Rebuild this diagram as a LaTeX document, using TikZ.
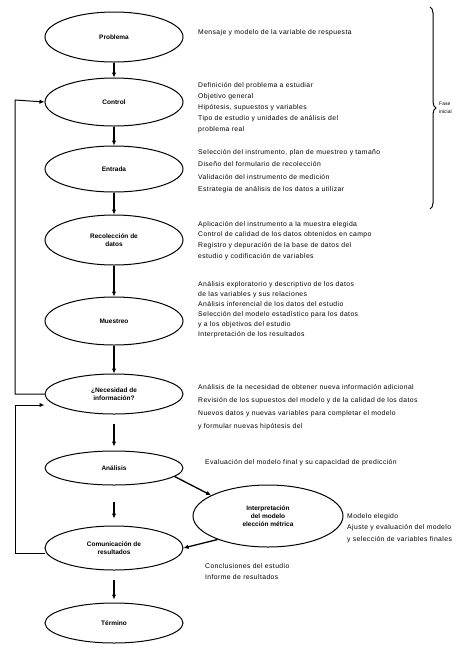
\documentclass[tikz,border=0pt]{standalone}
\usepackage{fontspec}
\setmainfont{Liberation Sans}
\newfontfamily\notefont[LetterSpace=6]{Liberation Sans}
\usetikzlibrary{shapes.geometric,arrows.meta,decorations.pathreplacing}
\begin{document}
\begin{tikzpicture}[x=1pt,y=-1pt,
  proc/.style={ellipse, draw, line width=1pt, minimum width=138pt, inner sep=0pt, align=center,
    font=\bfseries\fontsize{6.5}{8}\selectfont},
  arr/.style={line width=1.3pt, -{Latex[length=5pt,width=4.5pt]}},
  back/.style={line width=1pt},
  note/.style={anchor=north west, align=left, inner sep=0pt,
    font=\notefont\fontsize{6.8}{10}\selectfont}
]
\useasboundingbox[fill=white] (0,0) rectangle (459,649);

% process ellipses
\node[proc, minimum height=50pt] (e1) at (114,37) {Problema};
\node[proc, minimum height=48pt] (e2) at (114,102) {Control};
\node[proc, minimum height=46pt] (e3) at (114,169) {Entrada};
\node[proc, minimum height=50pt] (e4) at (114,240) {Recolección de\\datos};
\node[proc, minimum height=48pt] (e5) at (114,321) {Muestreo};
\node[proc, minimum height=40pt] (e6) at (114,394) {¿Necesidad de\\información?};
\node[proc, minimum height=34pt] (e7) at (114,468) {Análisis};
\node[proc, minimum width=150pt, minimum height=62pt] (e8) at (268,516) {Interpretación\\del modelo\\elección métrica};
\node[proc, minimum height=44pt] (e9) at (114,548) {Comunicación de\\resultados};
\node[proc, minimum height=40pt] (e10) at (114,623) {Término};

% vertical connectors
\draw[arr] (e1) -- (e2);
\draw[arr] (e2) -- (e3);
\draw[arr] (e3) -- (e4);
\draw[arr] (e4) -- (e5);
\draw[arr] (e5) -- (e6);
\draw[arr, shorten <=9pt, shorten >=4pt] (e6) -- (e7);
\draw[arr, shorten <=16pt, shorten >=7pt] (e7) -- (e9);
\draw[arr, shorten <=9pt, shorten >=3pt] (e9) -- (e10);
\draw[arr] (e7.-8) -- (e8.160);
\draw[arr] (e8.205) -- (e9.east);

% feedback loops
\coordinate (l1a) at (15,394);
\coordinate (l1b) at (15,100);
\draw[back, -{Latex[length=5pt,width=4.5pt]}] (e6.west) -- (l1a) -- (l1b) -- (e2.west);
\coordinate (l2a) at (15,553);
\coordinate (l2b) at (15,405);
\draw[back, -{Latex[length=5pt,width=4.5pt]}] (e9.west |- l2a) -- (l2a) -- (l2b) -- (e6.west |- l2b);

% brace
\coordinate (b1) at (430,7);
\coordinate (b2) at (430,209);
\draw[line width=1pt, decorate, decoration={brace, amplitude=6pt}] (b1) -- (b2);
\node[anchor=north west, align=left, inner sep=0pt, font=\fontsize{5}{8}\selectfont] (bl) at (439,102) {Fase\\inicial};

% notes
\node[note] (t1) at (198,29) {Mensaje y modelo de la variable de respuesta};
\node[note, font=\notefont\fontsize{6.8}{11}\selectfont] (t2) at (198,82) {Definición del problema a estudiar\\Objetivo general\\Hipótesis, supuestos y variables\\Tipo de estudio y unidades de análisis del\\problema real};
\node[note, font=\notefont\fontsize{6.8}{12.5}\selectfont] (t3) at (198,149) {Selección del instrumento, plan de muestreo y tamaño\\Diseño del formulario de recolección\\Validación del instrumento de medición\\Estrategia de análisis de los datos a utilizar};
\node[note, font=\notefont\fontsize{6.8}{10.7}\selectfont] (t4) at (198,221) {Aplicación del instrumento a la muestra elegida\\Control de calidad de los datos obtenidos en campo\\Registro y depuración de la base de datos del\\estudio y codificación de variables};
\node[note] (t5) at (198,281) {Análisis exploratorio y descriptivo de los datos\\de las variables y sus relaciones\\Análisis inferencial de los datos del estudio\\Selección del modelo estadístico para los datos\\y a los objetivos del estudio\\Interpretación de los resultados};
\node[note, font=\notefont\fontsize{6.8}{13}\selectfont] (t6) at (198,384) {Análisis de la necesidad de obtener nueva información adicional\\Revisión de los supuestos del modelo y de la calidad de los datos\\Nuevos datos y nuevas variables para completar el modelo\\y formular nuevas hipótesis del};
\node[note] (t7) at (205,459) {Evaluación del modelo final y su capacidad de predicción};
\node[note, font=\notefont\fontsize{6.8}{11.5}\selectfont] (t8) at (347,513) {Modelo elegido\\Ajuste y evaluación del modelo\\y selección de variables finales};
\node[note, font=\notefont\fontsize{6.8}{11}\selectfont] (t9) at (205,563) {Conclusiones del estudio\\Informe de resultados};
\end{tikzpicture}
\end{document}
